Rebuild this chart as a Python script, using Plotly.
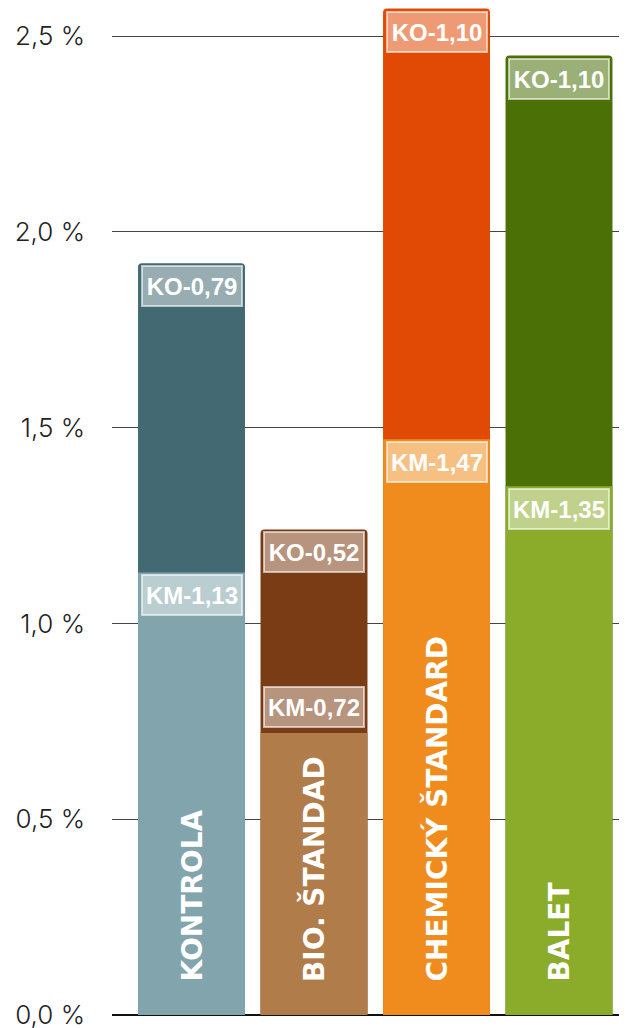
import plotly.graph_objects as go

categories = ["KONTROLA", "BIO. ŠTANDAD", "CHEMICKÝ ŠTANDARD", "BALET"]
km_values = [1.13, 0.72, 1.47, 1.35]
ko_values = [0.79, 0.52, 1.10, 1.10]
km_colors = ["#82A4AC", "#B07C4A", "#F08C1E", "#8AAC2A"]
ko_colors = ["#436A72", "#7A3C15", "#E04A05", "#4A7006"]
km_label_above = [False, True, False, False]
y_ticks = [0.0, 0.5, 1.0, 1.5, 2.0, 2.5]
y_tick_labels = ["0,0 %", "0,5 %", "1,0 %", "1,5 %", "2,0 %", "2,5 %"]

xs = list(range(len(categories)))
totals = [a + b for a, b in zip(km_values, ko_values)]

def fmt(v):
    return f"{v:.2f}".replace(".", ",")

fig = go.Figure()
# dark full-height bar (KO segment visible on top)
fig.add_trace(go.Bar(x=xs, y=totals, marker=dict(color=ko_colors, line=dict(width=0)),
                     width=0.873, hoverinfo="skip"))
# light KM bar in front
fig.add_trace(go.Bar(x=xs, y=km_values, marker=dict(color=km_colors, line=dict(width=0)),
                     width=0.873, hoverinfo="skip"))

label_font = dict(family="Liberation Sans, Arial, sans-serif", size=24, color="white", weight="bold")
box_style = dict(showarrow=False, font=label_font, width=98, height=38,
                 bgcolor="rgba(255,255,255,0.45)",
                 bordercolor="rgba(255,255,255,0.6)", borderwidth=2, borderpad=0)
for i, cat in enumerate(categories):
    # KO label at top of the stack
    fig.add_annotation(x=xs[i], y=totals[i], xref="x", yref="y", text="KO-" + fmt(ko_values[i]),
                       yanchor="top", yshift=-2, **box_style)
    # KM label at top of the KM segment (above it for short bars)
    if km_label_above[i]:
        fig.add_annotation(x=xs[i], y=km_values[i], xref="x", yref="y",
                           text="KM-" + fmt(km_values[i]), yanchor="bottom", yshift=5, **box_style)
    else:
        fig.add_annotation(x=xs[i], y=km_values[i], xref="x", yref="y",
                           text="KM-" + fmt(km_values[i]), yanchor="top", yshift=-2, **box_style)
    fig.add_annotation(x=xs[i], y=0, xref="x", yref="y", text=cat, textangle=-90,
                       showarrow=False, yanchor="bottom", yshift=31,
                       font=dict(family="DejaVu Sans, sans-serif", size=28,
                                 color="white", weight="bold"))

fig.update_layout(
    width=619, height=1028,
    margin=dict(l=104, r=0, t=0, b=21, autoexpand=False),
    plot_bgcolor="white", paper_bgcolor="white",
    barmode="overlay", barcornerradius=4,
    showlegend=False,
    xaxis=dict(range=[-0.649, 3.555], showticklabels=False, showgrid=False,
               zeroline=False, showline=False, fixedrange=True),
    yaxis=dict(range=[0, 2.5715], tickvals=y_ticks, ticktext=y_tick_labels,
               showgrid=True, gridcolor="#444444", gridwidth=1,
               zeroline=True, zerolinecolor="#111111", zerolinewidth=2,
               ticklabelstandoff=26, layer="below traces",
               tickfont=dict(family="Inter, Liberation Sans, sans-serif", size=26,
                             color="#222222", weight=300)),
)

fig.write_html("out.html")
